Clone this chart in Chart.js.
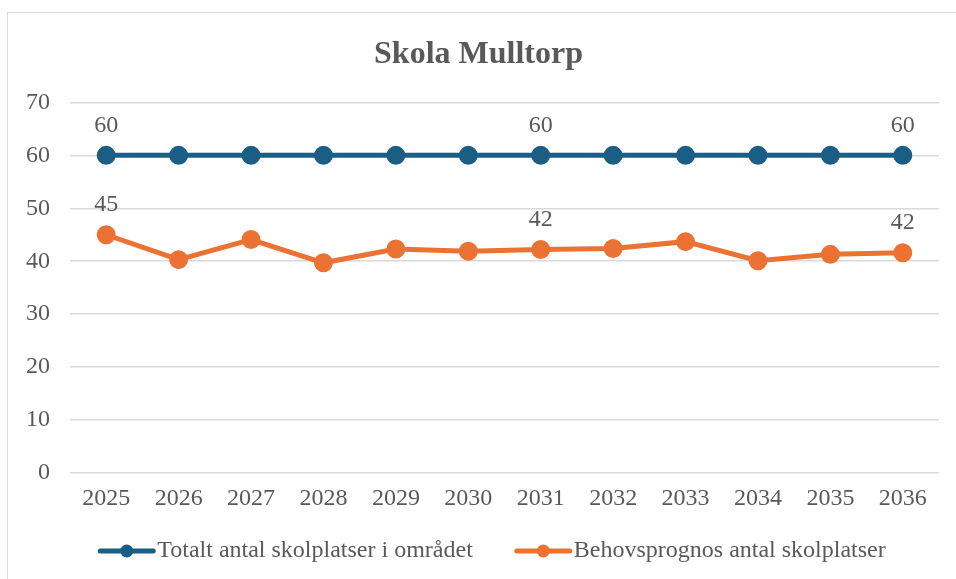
<!DOCTYPE html>
<html>
<head>
<meta charset="utf-8">
<script src="https://cdn.jsdelivr.net/npm/chart.js@4"></script>
<style>
  body { margin: 0; background: #fff; overflow: hidden; }
  #box { position: absolute; left: 7px; top: 12px; width: 960px; height: 590px; border: 1px solid #d9d9d9; }
</style>
</head>
<body>
<div id="box"><canvas id="myChart" width="958" height="588"></canvas></div>
<script>
const years = ["2025", "2026", "2027", "2028", "2029", "2030", "2031", "2032", "2033", "2034", "2035", "2036"];
const totalPlatser = [60, 60, 60, 60, 60, 60, 60, 60, 60, 60, 60, 60];
const behovPrognos = [45, 40.3, 44.1, 39.7, 42.3, 41.9, 42.2, 42.4, 43.7, 40.1, 41.3, 41.6];
const labelIndex = [0, 6, 11];
const seriesNames = ["Totalt antal skolplatser i området", "Behovsprognos antal skolplatser"];

const textColor = "#595959";
const blue = "#1a5e86";
const orange = "#eb7233";
const fontFamily = "'Liberation Serif', 'Times New Roman', serif";

// numbers over a few of the points
const valueLabels = {
  id: "valueLabels",
  afterDatasetsDraw(chart){
    const ctx = chart.ctx;
    ctx.save();
    ctx.font = "24px " + fontFamily;
    ctx.fillStyle = textColor;
    ctx.textAlign = "center";
    ctx.textBaseline = "middle";
    chart.data.datasets.forEach((ds, i) => {
      const meta = chart.getDatasetMeta(i);
      labelIndex.forEach(idx => {
        const pt = meta.data[idx];
        ctx.fillText(Math.round(ds.data[idx]), pt.x, pt.y - 30);
      });
    });
    ctx.restore();
  }
};

// legend with line + marker swatch
const lineLegend = {
  id: "lineLegend",
  afterDraw(chart){
    const ctx = chart.ctx;
    ctx.save();
    ctx.font = "24px " + fontFamily;
    ctx.textBaseline = "middle";
    const swatch = 57, gap = 2, between = 42;
    const items = chart.data.datasets.map(ds => ({ ds, w: ctx.measureText(ds.label).width }));
    let total = 0;
    items.forEach((it, i) => { total += swatch + gap + it.w + (i ? between : 0); });
    let x = (chart.width - total) / 2 + 5;
    const y = 538;
    items.forEach(it => {
      ctx.strokeStyle = it.ds.borderColor;
      ctx.lineWidth = 5;
      ctx.lineCap = "round";
      ctx.beginPath();
      ctx.moveTo(x + 2, y);
      ctx.lineTo(x + swatch - 2, y);
      ctx.stroke();
      ctx.fillStyle = it.ds.borderColor;
      ctx.beginPath();
      ctx.arc(x + swatch / 2, y, 6.5, 0, Math.PI * 2);
      ctx.fill();
      ctx.fillStyle = textColor;
      ctx.textAlign = "left";
      ctx.fillText(it.ds.label, x + swatch + gap, y);
      x += swatch + gap + it.w + between;
    });
    ctx.restore();
  }
};

new Chart("myChart", {
  type: "line",
  data: {
    labels: years,
    datasets: [
      {
        label: seriesNames[0],
        data: totalPlatser,
        borderColor: blue,
        backgroundColor: blue,
        borderWidth: 5,
        pointRadius: 7,
        pointHoverRadius: 7
      },
      {
        label: seriesNames[1],
        data: behovPrognos,
        borderColor: orange,
        backgroundColor: orange,
        borderWidth: 5,
        pointRadius: 7,
        pointHoverRadius: 7
      }
    ]
  },
  options: {
    responsive: false,
    animation: false,
    devicePixelRatio: 1,
    layout: { padding: { left: 10, right: 27, top: 23, bottom: 90 } },
    plugins: {
      legend: { display: false },
      tooltip: { enabled: false },
      title: {
        display: true,
        text: "Skola Mulltorp",
        color: textColor,
        font: { family: fontFamily, size: 32, weight: "bold", lineHeight: 1.2 },
        padding: { top: 0, bottom: 28 }
      }
    },
    scales: {
      x: {
        offset: true,
        grid: { display: false, drawTicks: false },
        border: { display: false },
        ticks: { color: textColor, font: { family: fontFamily, size: 24 }, padding: 11, maxRotation: 0, autoSkip: false },
        afterFit(axis){ axis.height = 38; }
      },
      y: {
        min: 0,
        max: 70,
        grid: { color: "#d9d9d9", lineWidth: 1.5, drawTicks: false },
        border: { display: false },
        ticks: { stepSize: 10, color: textColor, font: { family: fontFamily, size: 24 }, padding: 20 },
        afterFit(axis){ axis.width = 52; }
      }
    }
  },
  plugins: [valueLabels, lineLegend]
});
</script>
</body>
</html>
